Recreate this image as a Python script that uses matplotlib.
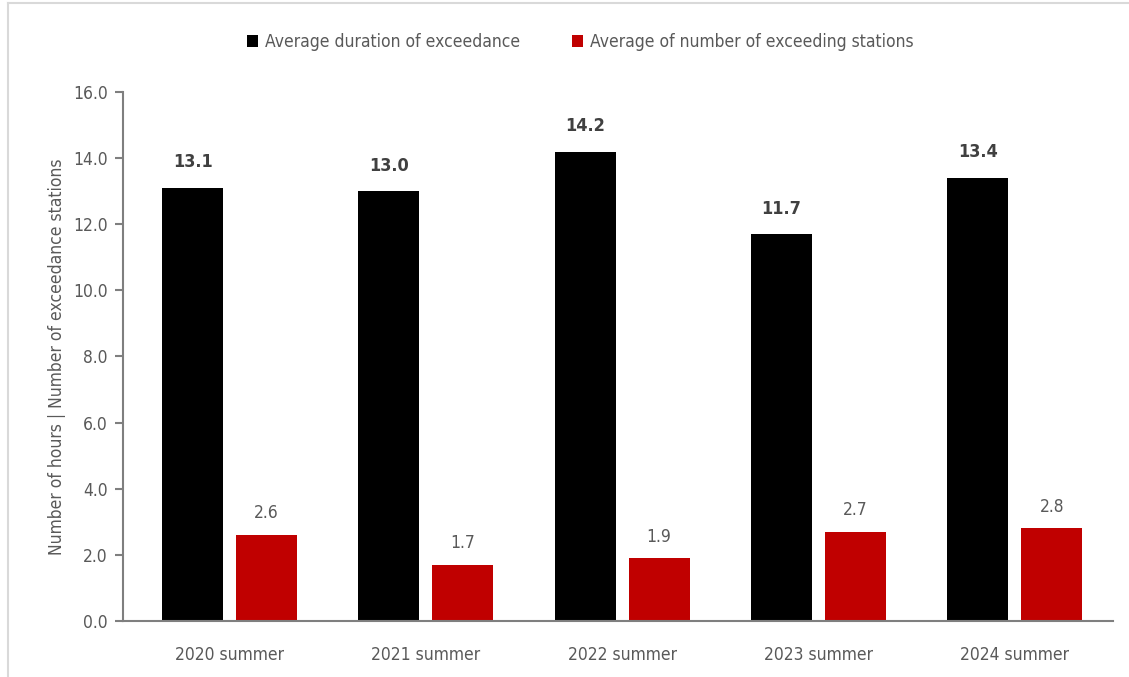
import numpy as np
import matplotlib
matplotlib.use('Agg')
import matplotlib.pyplot as plt
from matplotlib.lines import Line2D

plt.rcParams['font.family'] = ['DejaVu Sans']
plt.rcParams['font.stretch'] = 'condensed'

seasons = ['2020 summer', '2021 summer', '2022 summer', '2023 summer', '2024 summer']
duration = [13.1, 13.0, 14.2, 11.7, 13.4]
stations = [2.6, 1.7, 1.9, 2.7, 2.8]
yticks = [0, 2, 4, 6, 8, 10, 12, 14, 16]

grey = '#595959'
black = '#000000'
red = '#C00000'
fs = 12.5

fig = plt.figure(figsize=(11.29, 6.77), dpi=100)
ax = fig.add_axes([0.109, 0.083, 0.877, 0.781])

x = np.arange(len(seasons))
w = 0.311
off = 0.1885
b1 = ax.bar(x - off, duration, w, color=black, label='Average duration of exceedance')
b2 = ax.bar(x + off, stations, w, color=red, label='Average of number of exceeding stations')

for r, v in zip(b1, duration):
    ax.annotate(f'{v:.1f}', (r.get_x() + r.get_width() / 2, v), xytext=(0, 12),
                textcoords='offset points', ha='center', va='bottom',
                fontsize=fs + 0.5, fontweight='bold', color='#404040')
for r, v in zip(b2, stations):
    ax.annotate(f'{v:.1f}', (r.get_x() + r.get_width() / 2, v), xytext=(0, 9),
                textcoords='offset points', ha='center', va='bottom',
                fontsize=fs, color=grey)

ax.set_xlim(-0.543, 4.502)
ax.set_ylim(0, 16)
ax.set_yticks(yticks)
ax.set_yticklabels([f'{t:.1f}' for t in yticks])
ax.set_xticks(x)
ax.set_xticklabels(seasons)
ax.tick_params(axis='y', colors='#7f7f7f', labelcolor=grey, labelsize=fs, length=6, width=1.5, pad=5)
ax.tick_params(axis='x', length=0, labelcolor=grey, labelsize=fs, pad=18)
ax.set_ylabel('Number of hours | Number of exceedance stations', color=grey, fontsize=fs, labelpad=5)

for s in ['top', 'right']:
    ax.spines[s].set_visible(False)
for s in ['left', 'bottom']:
    ax.spines[s].set_color('#7f7f7f')
    ax.spines[s].set_linewidth(1.5)

fig.legend(handles=[b1, b2], loc='center', bbox_to_anchor=(0.514, 0.938), ncol=2, frameon=False,
           fontsize=fs, labelcolor=grey, handlelength=0.65, handleheight=0.65,
           handletextpad=0.4, columnspacing=3.0)

# light frame of the chart area
fig.add_artist(Line2D([0.007, 1.0], [0.995, 0.995], color='#d9d9d9', lw=1.5, transform=fig.transFigure))
fig.add_artist(Line2D([0.007, 0.007], [0.0, 0.995], color='#d9d9d9', lw=1.5, transform=fig.transFigure))

fig.savefig('out.png', dpi=100)
